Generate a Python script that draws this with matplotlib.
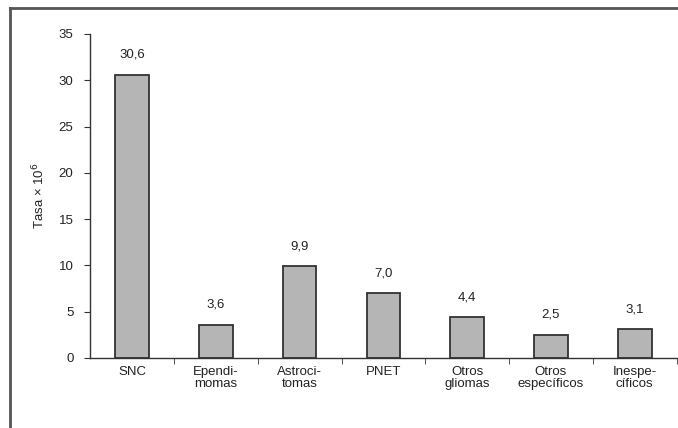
import matplotlib
matplotlib.use("Agg")
import matplotlib.pyplot as plt
import numpy as np
from matplotlib.lines import Line2D

categories = ["SNC", "Ependi-\nmomas", "Astroci-\ntomas", "PNET",
              "Otros\ngliomas", "Otros\nespecíficos", "Inespe-\ncíficos"]
values = [30.6, 3.6, 9.9, 7.0, 4.4, 2.5, 3.1]
value_labels = ["30,6", "3,6", "9,9", "7,0", "4,4", "2,5", "3,1"]
y_ticks = [0, 5, 10, 15, 20, 25, 30, 35]

plt.rcParams["font.family"] = ["Liberation Sans", "DejaVu Sans"]
fs = 9.5

fig = plt.figure(figsize=(6.78, 4.28), dpi=100)
ax = fig.add_axes([0.133, 0.1636, 0.865, 0.757])

x = np.arange(len(categories))
ax.bar(x, values, width=0.4, color="#b5b5b5", edgecolor="#333333", linewidth=1.3)
for xi, v, lab in zip(x, values, value_labels):
    ax.text(xi, v + 1.5, lab, ha="center", va="bottom", fontsize=fs, color="#222222")

ax.set_xlim(-0.5, len(categories) - 0.5)
ax.set_ylim(0, 35)
ax.set_yticks(y_ticks)
ax.set_yticklabels([str(t) for t in y_ticks], fontsize=fs, color="#222222")
ax.set_xticks(x)
ax.set_xticklabels(categories, fontsize=fs, color="#222222", linespacing=1.0)
ax.tick_params(axis="x", length=0, pad=6)
ax.set_xticks(np.arange(len(categories)) + 0.5, minor=True)
ax.tick_params(axis="x", which="minor", length=4, direction="out", color="#333333")
ax.tick_params(axis="y", length=4, direction="out", color="#333333", pad=8)
ax.set_ylabel("Tasa × 10$^6$", fontsize=fs, color="#222222", labelpad=8)

for side in ["top", "right"]:
    ax.spines[side].set_visible(False)
for side in ["left", "bottom"]:
    ax.spines[side].set_color("#333333")
    ax.spines[side].set_linewidth(1.0)

# frame around the figure (top and left edges visible)
fig.add_artist(Line2D([10 / 678, 10 / 678], [0, 1 - 8 / 428], transform=fig.transFigure,
                      color="#555555", linewidth=2))
fig.add_artist(Line2D([10 / 678, 1], [1 - 8 / 428, 1 - 8 / 428], transform=fig.transFigure,
                      color="#555555", linewidth=2))

fig.savefig("out.png", dpi=100)
